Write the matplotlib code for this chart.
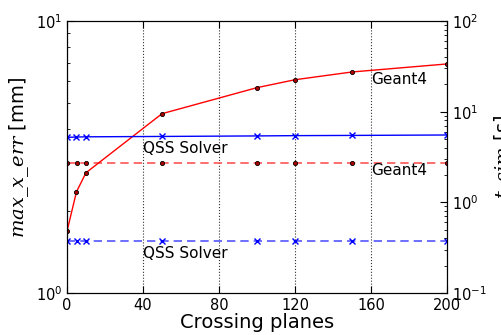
import numpy as np
import matplotlib
matplotlib.use('Agg')
import matplotlib.pyplot as plt
from matplotlib.ticker import NullFormatter

# crossing planes
planes = [0, 5, 10, 50, 100, 120, 150, 200]

# simulation time [s] (right axis)
geant4_time = [0.48, 1.31, 2.12, 9.5, 18.4, 22.5, 27.4, 33.6]
qss_time = [5.21, 5.25, 5.28, 5.33, 5.40, 5.44, 5.47, 5.53]

# max x error [mm] (left axis)
geant4_err = [3.0, 3.0, 3.0, 3.0, 3.0, 3.0, 3.0, 3.0]
qss_err = [1.55, 1.55, 1.55, 1.55, 1.55, 1.55, 1.55, 1.55]

W, H = 501, 335
fig = plt.figure(figsize=(W / 100, H / 100), dpi=100)
ax = fig.add_axes([67 / W, (H - 293) / H, 380 / W, 272 / H])
ax2 = ax.twinx()

# error lines (dashed)
ax.plot(planes, geant4_err, '--', color='#ff5555', lw=1.2, marker='o', ms=3,
        mfc='#aa0000', mec='black', mew=0.6, dashes=(5, 3))
ax.plot(planes, qss_err, '--', color='#5555ff', lw=1.2, marker='x', ms=5,
        mec='blue', mew=1, dashes=(5, 3))

# time lines (solid)
ax2.plot(planes, geant4_time, '-', color='red', lw=1, marker='o', ms=3,
         mfc='#aa0000', mec='black', mew=0.6)
ax2.plot(planes, qss_time, '-', color='blue', lw=1, marker='x', ms=5,
         mec='blue', mew=1)

ax.set_yscale('log')
ax2.set_yscale('log')
ax.set_ylim(1, 10)
ax2.set_ylim(0.1, 100)
ax.set_xlim(0, 200)
ax.set_xticks([0, 40, 80, 120, 160, 200])
ax.xaxis.grid(True, linestyle=':', color='#333333', lw=0.8)

for a in (ax, ax2):
    a.yaxis.set_minor_formatter(NullFormatter())
    a.tick_params(which='both', direction='in', labelsize=10.5)
    a.tick_params(which='major', length=5)
    a.tick_params(which='minor', length=2.5)
ax.tick_params(top=True)

ax.set_xlabel('Crossing planes', fontsize=14, labelpad=0)
ax.set_ylabel(r'$\mathit{max\_x\_err}$ [mm]', fontsize=14, labelpad=3,
              math_fontfamily='dejavuserif')
ax2.set_ylabel(r'$\mathit{t\_sim}$ [s]', fontsize=14, labelpad=4,
               math_fontfamily='dejavuserif')

ax.text(160, 6.1, 'Geant4', fontsize=11, va='center')
ax.text(40, 3.41, 'QSS Solver', fontsize=11, va='center')
ax.text(160, 2.83, 'Geant4', fontsize=11, va='center')
ax.text(40, 1.40, 'QSS Solver', fontsize=11, va='center')

fig.savefig('out.png', dpi=100)
